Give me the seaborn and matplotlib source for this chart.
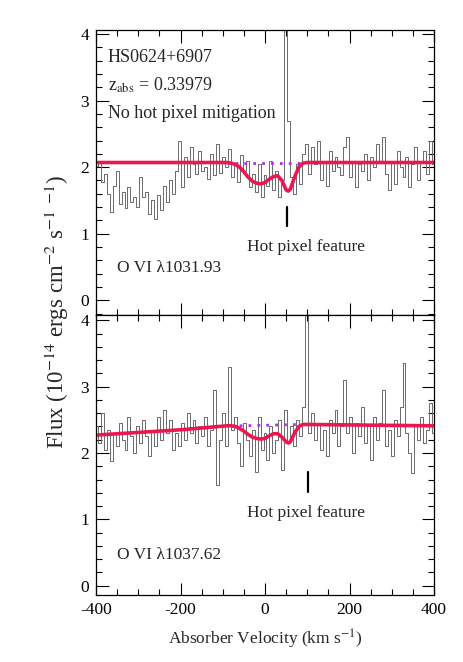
import numpy as np
import pandas as pd
import matplotlib
matplotlib.use("Agg")
import matplotlib.pyplot as plt
import seaborn as sns
from matplotlib.ticker import MultipleLocator

# ---------------- data ----------------
velocity = [-399, -392, -385, -378, -371, -364, -357, -350, -343, -336, -329, -322, -315, -308,
            -301, -294, -287, -280, -273, -266, -259, -252, -245, -238, -231, -224, -217, -210,
            -203, -196, -189, -182, -175, -168, -161, -154, -147, -140, -133, -126, -119, -112,
            -105, -98, -91, -84, -77, -70, -63, -56, -49, -42, -35, -28, -21, -14, -7, 0,
            7, 14, 21, 28, 35, 42, 49, 56, 63, 70, 77, 84, 91, 98, 105, 112,
            119, 126, 133, 140, 147, 154, 161, 168, 175, 182, 189, 196, 203, 210,
            217, 224, 231, 238, 245, 252, 259, 266, 273, 280, 287, 294, 301, 308,
            315, 322, 329, 336, 343, 350, 357, 364, 371, 378, 385, 392, 399]

flux_1031 = [2.02, 2.10, 1.78, 1.90, 1.60, 1.33, 1.72, 1.95, 1.45, 1.62, 1.38, 1.70, 1.48, 1.55,
             1.40, 1.85, 1.55, 1.62, 1.30, 1.50, 1.22, 1.58, 1.35, 1.72, 1.48, 1.80, 1.60, 1.95,
             2.40, 1.70, 2.15, 1.85, 2.30, 2.05, 1.90, 2.25, 1.95, 2.00, 1.82, 2.20, 1.88, 2.35,
             1.92, 2.15, 2.00, 2.28, 1.85, 2.05, 1.78, 2.18, 1.95, 2.10, 1.70, 1.90, 1.62, 2.05,
             1.55, 1.88, 1.72, 2.10, 1.65, 1.95, 1.55, 1.80, 4.30, 2.70, 1.85, 1.60, 2.05, 1.75,
             2.20, 2.35, 1.90, 2.30, 2.05, 2.40, 1.80, 2.10, 1.72, 2.25, 1.95, 2.15, 2.00, 1.88,
             2.30, 2.45, 1.85, 2.10, 1.70, 2.05, 1.95, 2.20, 1.80, 2.15, 2.00, 2.35, 2.10, 2.45,
             1.90, 1.65, 2.10, 1.75, 2.25, 2.00, 1.85, 2.15, 1.70, 2.05, 2.30, 1.80, 2.10, 2.25,
             1.90, 2.40, 2.05]

flux_1037 = [2.40, 2.15, 2.60, 2.05, 2.35, 1.88, 2.30, 2.10, 2.45, 2.20, 2.05, 2.55, 2.25, 2.00,
             2.40, 2.15, 2.50, 2.25, 1.95, 2.35, 2.10, 2.55, 2.20, 2.65, 2.30, 2.50, 2.05, 2.30,
             2.10, 2.45, 2.20, 2.60, 2.30, 2.50, 2.15, 2.40, 2.25, 2.55, 2.10, 2.35, 2.95, 1.52,
             2.20, 2.60, 2.10, 3.30, 2.35, 2.55, 2.15, 1.80, 2.45, 2.20, 1.95, 2.35, 1.72, 2.55,
             2.05, 2.30, 1.90, 2.40, 2.00, 2.20, 2.50, 1.75, 2.65, 2.15, 2.40, 2.10, 2.50, 2.25,
             2.70, 4.40, 2.30, 2.60, 2.20, 2.45, 2.05, 2.35, 1.95, 2.50, 2.30, 2.65, 2.10, 2.40,
             3.10, 2.30, 2.55, 2.00, 2.45, 2.25, 2.70, 2.15, 2.40, 1.90, 2.55, 2.20, 2.45, 2.95,
             2.10, 2.35, 1.95, 2.50, 2.25, 2.70, 3.35, 2.30, 2.00, 1.70, 2.40, 2.20, 2.55, 2.15,
             2.35, 2.75, 2.30]

model_v_1031 = [-400, -90, -80, -70, -60, -50, -40, -30, -20, -10, 0, 10, 20, 30, 40, 50, 55, 60,
                70, 80, 90, 100, 400]
model_f_1031 = [2.07, 2.07, 2.06, 2.04, 2.00, 1.93, 1.85, 1.79, 1.76, 1.75, 1.77, 1.82, 1.86, 1.87,
                1.80, 1.66, 1.64, 1.67, 1.85, 2.00, 2.06, 2.07, 2.07]

model_v_1037 = [-400, -200, -90, -80, -70, -60, -50, -40, -30, -20, -10, 0, 10, 20, 30, 40, 50, 55,
                60, 70, 80, 90, 100, 400]
model_f_1037 = [2.27, 2.35, 2.41, 2.41, 2.40, 2.37, 2.33, 2.28, 2.24, 2.22, 2.21, 2.22, 2.26, 2.29,
                2.29, 2.24, 2.17, 2.15, 2.17, 2.30, 2.40, 2.43, 2.43, 2.41]

cont_v_1031 = [-70, 90]
cont_f_1031 = [2.07, 2.07]
cont_v_1037 = [-60, 85]
cont_f_1037 = [2.41, 2.43]

hot_pixel_v = [52, 102]
line_labels = ["O VI \u03bb1031.93", "O VI \u03bb1037.62"]
header_lines = ["HS0624+6907", "z$_{\\rm abs}$ = 0.33979", "No hot pixel mitigation"]

# ---------------- style ----------------
sns.set_theme(style="ticks")
plt.rcParams["font.family"] = ["Liberation Serif", "DejaVu Serif"]
plt.rcParams["mathtext.fontset"] = "stix"
plt.rcParams["axes.linewidth"] = 0.9

W, H = 463, 662
fig = plt.figure(figsize=(W / 100, H / 100), dpi=100)
fig.patch.set_facecolor("white")

def fx(px):
    return px / W

def fy(py):
    return 1 - py / H

left, right = 96, 434
ax_top = fig.add_axes([fx(left), fy(315), fx(right - left), (315 - 30) / H])
ax_bot = fig.add_axes([fx(left), fy(595), fx(right - left), (595 - 315) / H])

panels = [
    (ax_top, flux_1031, model_v_1031, model_f_1031, cont_v_1031, cont_f_1031, (-0.22, 4.06)),
    (ax_bot, flux_1037, model_v_1037, model_f_1037, cont_v_1037, cont_f_1037, (-0.14, 4.08)),
]

for k, (ax, flux, mv, mf, cv, cf, ylim) in enumerate(panels):
    spec = pd.DataFrame({"v": velocity, "f": flux})
    sns.lineplot(data=spec, x="v", y="f", ax=ax, drawstyle="steps-mid",
                 color="#6a6a6a", linewidth=0.7, estimator=None, sort=True)
    cont = pd.DataFrame({"v": cv, "f": cf})
    sns.lineplot(data=cont, x="v", y="f", ax=ax, color="#b030f0", linewidth=2.0,
                 linestyle=(0, (1, 2.2)), estimator=None)
    model = pd.DataFrame({"v": mv, "f": mf})
    sns.lineplot(data=model, x="v", y="f", ax=ax, color="#ec1650", linewidth=2.6,
                 estimator=None)

    ax.set_xlim(-400, 400)
    ax.set_ylim(*ylim)
    ax.xaxis.set_major_locator(MultipleLocator(200))
    ax.xaxis.set_minor_locator(MultipleLocator(50))
    ax.yaxis.set_major_locator(MultipleLocator(1))
    ax.yaxis.set_minor_locator(MultipleLocator(0.2))
    ax.tick_params(which="both", direction="in", top=True, right=True, bottom=True, left=True,
                   labelsize=12.5, colors="black", width=0.8, pad=5)
    ax.tick_params(which="major", length=9)
    ax.tick_params(which="minor", length=4.5)
    ax.set_xlabel("")
    ax.set_ylabel("")
    for s in ax.spines.values():
        s.set_color("black")
        s.set_visible(True)

    # hot pixel marker and label
    hv = hot_pixel_v[k]
    if k == 0:
        ax.plot([hv, hv], [1.12, 1.40], color="black", linewidth=1.6)
        ax.text(hv + 45, 0.80, "Hot pixel feature", ha="center", va="center", fontsize=12.5)
        ax.text(-350, 0.48, line_labels[k], ha="left", va="center", fontsize=12.5)
    else:
        ax.plot([hv, hv], [1.41, 1.71], color="black", linewidth=1.6)
        ax.text(hv - 5, 1.10, "Hot pixel feature", ha="center", va="center", fontsize=12.5)
        ax.text(-350, 0.47, line_labels[k], ha="left", va="center", fontsize=12.5)

ax_top.tick_params(labelbottom=False)
for i, (txt, yy) in enumerate(zip(header_lines, [3.64, 3.23, 2.81])):
    ax_top.text(-372, yy, txt, ha="left", va="center", fontsize=13)

ax_bot.set_xticks([-400, -200, 0, 200, 400])
ax_bot.set_xticklabels(["-400", "-200", "0", "200", "400"])

fig.text(fx(265), fy(639), "Absorber Velocity (km s$^{-1}$)", ha="center", va="center",
         fontsize=12.5)
fig.text(fx(57), fy(312), "Flux (10$^{-14}$ ergs cm$^{-2}$ s$^{-1}$ $^{-1}$)", ha="center",
         va="center", rotation=90, fontsize=16.5)

fig.savefig("out.png", dpi=100, facecolor="white")
